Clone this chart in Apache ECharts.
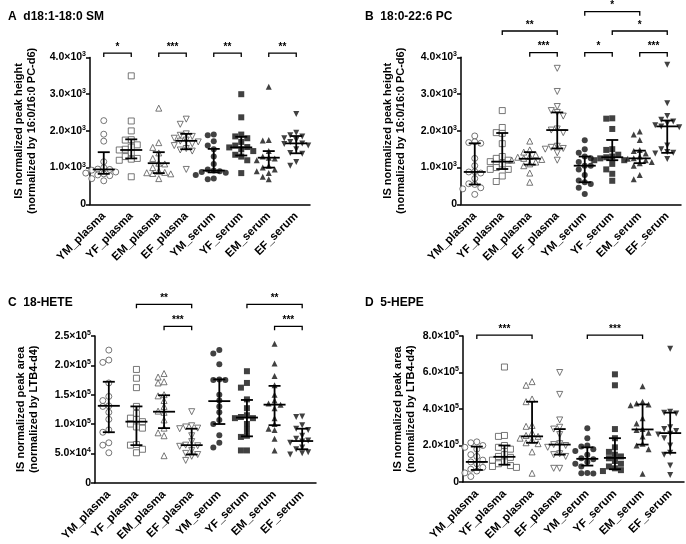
<!DOCTYPE html>
<html>
<head>
<meta charset="utf-8">
<script src="https://cdn.jsdelivr.net/npm/echarts@6/dist/echarts.min.js"></script>
<style>
  html, body { margin: 0; padding: 0; background: #fff; }
  #chart { width: 686px; height: 544px; }
</style>
</head>
<body>
<div id="chart"></div>
<script>
const categories = ['YM_plasma', 'YF_plasma', 'EM_plasma', 'EF_plasma', 'YM_serum', 'YF_serum', 'EM_serum', 'EF_serum'];

// A  d18:1-18:0 SM
const aValues = [
  [2280, 1910, 1720, 1160, 1000, 960, 950, 930, 880, 850, 830, 800, 780, 700, 640],
  [3500, 2270, 2000, 1760, 1750, 1620, 1560, 1500, 1480, 1400, 1300, 1250, 1230, 1200, 750],
  [2620, 1680, 1550, 1400, 1250, 1120, 1100, 1000, 900, 870, 860, 840, 830, 700],
  [2320, 2180, 1920, 1880, 1850, 1800, 1750, 1720, 1700, 1650, 1600, 1520, 1480, 1450, 950],
  [1900, 1880, 1720, 1600, 1500, 1300, 1100, 950, 920, 900, 880, 860, 800, 700, 680],
  [3000, 2370, 1900, 1850, 1800, 1700, 1600, 1560, 1550, 1500, 1450, 1350, 1300, 1200, 850],
  [3200, 1750, 1740, 1450, 1300, 1270, 1250, 1200, 1050, 1000, 950, 900, 850, 750, 680],
  [2460, 1950, 1880, 1850, 1800, 1750, 1700, 1660, 1640, 1600, 1500, 1400, 1380, 1150, 1050]
];
const aMedian = [950, 1480, 1120, 1730, 920, 1550, 1270, 1660];
const aQ1 = [830, 1250, 850, 1500, 870, 1330, 1000, 1390];
const aQ3 = [1420, 1770, 1420, 1920, 1510, 1840, 1450, 1860];
const aBrackets = [[0, 1, 4120, '*'], [2, 3, 4120, '***'], [4, 5, 4120, '**'], [6, 7, 4120, '**']];

// B  18:0-22:6 PC
const bValues = [
  [1860, 1700, 1680, 1660, 1250, 1050, 890, 880, 850, 700, 560, 540, 450, 420, 270],
  [2550, 2090, 1950, 1930, 1650, 1300, 1250, 1200, 1160, 1100, 1000, 950, 950, 770, 620],
  [1720, 1480, 1420, 1350, 1300, 1280, 1250, 1220, 1200, 1150, 1100, 1050, 850, 600],
  [3700, 3070, 2660, 2550, 2500, 2400, 2050, 2020, 1950, 1580, 1550, 1520, 1500, 1400, 1200],
  [1740, 1500, 1400, 1300, 1250, 1150, 1050, 1050, 950, 800, 650, 600, 550, 450, 280],
  [2340, 2330, 2050, 1500, 1480, 1350, 1300, 1280, 1250, 1200, 1200, 1100, 950, 830, 640],
  [1980, 1900, 1750, 1480, 1450, 1380, 1300, 1250, 1240, 1200, 1150, 1120, 1050, 800, 680],
  [3800, 2750, 2400, 2300, 2250, 2200, 2150, 2120, 2100, 1600, 1500, 1420, 1400, 1380, 1230]
];
const bMedian = [880, 1160, 1240, 2020, 1050, 1280, 1250, 2120];
const bQ1 = [540, 960, 1080, 1520, 600, 1200, 1120, 1400];
const bQ3 = [1660, 1940, 1420, 2500, 1300, 1750, 1460, 2280];
const bBrackets = [[1, 3, 4716, '**'], [2, 3, 4125, '***'], [4, 5, 4125, '*'], [6, 7, 4125, '***'], [5, 7, 4716, '*'], [4, 6, 5241, '*']];

// C  18-HETE
const cValues = [
  [226000, 209000, 205000, 170000, 147000, 140000, 131000, 130000, 120000, 108000, 90000, 86000, 68000, 64000, 51000],
  [193000, 178000, 162000, 130000, 118000, 110000, 108000, 104000, 100000, 95000, 93000, 65000, 64000, 57000, 51000],
  [186000, 180000, 172000, 170000, 150000, 148000, 140000, 130000, 122000, 120000, 107000, 93000, 85000, 80000, 46000],
  [121000, 97000, 95000, 93000, 92000, 80000, 70000, 64000, 63000, 62000, 55000, 50000, 48000, 45000, 38000],
  [226000, 220000, 202000, 176000, 175000, 175000, 150000, 140000, 130000, 120000, 107000, 100000, 81000, 68000, 60000],
  [190000, 170000, 162000, 142000, 127000, 115000, 112000, 110000, 110000, 100000, 90000, 80000, 78000, 55000, 55000],
  [237000, 203000, 182000, 166000, 150000, 140000, 135000, 133000, 127000, 110000, 100000, 92000, 90000, 75000, 55000],
  [113000, 112000, 98000, 92000, 90000, 80000, 75000, 72000, 70000, 68000, 60000, 57000, 52000, 50000, 48000]
];
const cMedian = [131000, 104000, 121000, 64000, 139000, 111000, 133000, 71000];
const cQ1 = [86000, 64000, 93000, 48000, 100000, 79000, 98000, 57000];
const cQ3 = [172000, 130000, 149000, 92000, 176000, 141000, 165000, 92000];
const cBrackets = [[1, 3, 304000, '**'], [2, 3, 266500, '***'], [5, 7, 304000, '**'], [6, 7, 266500, '***']];

// D  5-HEPE
const dValues = [
  [220000, 215000, 200000, 190000, 180000, 150000, 140000, 120000, 110000, 100000, 80000, 70000, 60000, 50000, 30000],
  [630000, 255000, 250000, 200000, 190000, 180000, 150000, 140000, 135000, 120000, 110000, 100000, 90000, 85000, 80000],
  [550000, 530000, 455000, 440000, 310000, 305000, 270000, 255000, 250000, 240000, 230000, 215000, 210000, 165000, 48000],
  [600000, 480000, 340000, 300000, 290000, 260000, 210000, 205000, 200000, 190000, 155000, 150000, 140000, 75000, 75000],
  [295000, 240000, 200000, 195000, 180000, 170000, 150000, 130000, 125000, 110000, 100000, 85000, 50000, 48000, 46000],
  [590000, 530000, 290000, 240000, 190000, 165000, 150000, 140000, 130000, 115000, 100000, 85000, 75000, 65000, 60000],
  [525000, 440000, 430000, 425000, 420000, 350000, 320000, 290000, 285000, 270000, 250000, 210000, 200000, 180000, 45000],
  [730000, 385000, 380000, 375000, 300000, 290000, 280000, 265000, 260000, 240000, 200000, 160000, 150000, 90000, 38000]
];
const dMedian = [110000, 138000, 250000, 205000, 127000, 132000, 288000, 268000];
const dQ1 = [66000, 95000, 215000, 150000, 90000, 70000, 205000, 160000];
const dQ3 = [194000, 200000, 440000, 290000, 190000, 240000, 425000, 380000];
const dBrackets = [[0, 2, 805000, '***'], [4, 6, 805000, '***']];

const panels = [
  { title: 'A  d18:1-18:0 SM', tx: 3, ty: 6, values: aValues, median: aMedian, q1: aQ1, q3: aQ3, brackets: aBrackets,
    max: 4000, interval: 1000, yName: 'IS normalized peak height\n(normalized by 16:0/16:0 PC-d6)', nameGap: 52,
    grid: { left: 90, top: 57.5, width: 220, height: 146.8 } },
  { title: 'B  18:0-22:6 PC', tx: 360, ty: 6, values: bValues, median: bMedian, q1: bQ1, q3: bQ3, brackets: bBrackets,
    max: 4000, interval: 1000, yName: 'IS normalized peak height\n(normalized by 16:0/16:0 PC-d6)', nameGap: 54,
    grid: { left: 461, top: 57.3, width: 220, height: 147 } },
  { title: 'C  18-HETE', tx: 3, ty: 292, values: cValues, median: cMedian, q1: cQ1, q3: cQ3, brackets: cBrackets,
    max: 250000, interval: 50000, yName: 'IS normalized peak area\n(normalized by LTB4-d4)', nameGap: 55,
    grid: { left: 95, top: 336, width: 221, height: 146.7 } },
  { title: 'D  5-HEPE', tx: 360, ty: 292, values: dValues, median: dMedian, q1: dQ1, q3: dQ3, brackets: dBrackets,
    max: 800000, interval: 200000, yName: 'IS normalized peak area\n(normalized by LTB4-d4)', nameGap: 46,
    grid: { left: 463, top: 336, width: 221, height: 146 } }
];

const markers = [
  { symbol: 'circle', rotate: 0, filled: false },
  { symbol: 'rect', rotate: 0, filled: false },
  { symbol: 'triangle', rotate: 0, filled: false },
  { symbol: 'triangle', rotate: 180, filled: false },
  { symbol: 'circle', rotate: 0, filled: true },
  { symbol: 'rect', rotate: 0, filled: true },
  { symbol: 'triangle', rotate: 0, filled: true },
  { symbol: 'triangle', rotate: 180, filled: true }
];

const sciLabel = v => {
  if (v === 0) return '{m|0}';
  const e = Math.floor(Math.log10(v) + 1e-9);
  const m = v / Math.pow(10, e);
  return '{m|' + m.toFixed(1) + '×10}{e|' + e + '}';
};

// GraphPad style spread: points that would overlap get pushed sideways
const swarm = (vals, max) => {
  const delta = max * 0.04;
  const order = [0, -1, 1, -2, 2, -3, 3];
  const placed = [];
  return vals.map(v => {
    const used = placed.filter(p => Math.abs(p.v - v) < delta).map(p => p.k);
    let i = 0;
    while (used.includes(order[i]) && i < order.length - 1) i++;
    placed.push({ v, k: order[i] });
    return order[i] * 6;
  });
};

const chart = echarts.init(document.getElementById('chart'));

const grids = [], xAxes = [], yAxes = [], series = [], titles = [];

panels.forEach((p, pi) => {
  titles.push({ text: p.title, left: p.tx, top: p.ty,
    textStyle: { fontSize: 12, fontWeight: 'bold', color: '#000', fontFamily: 'Arial' } });
  grids.push(p.grid);
  xAxes.push({
    type: 'category', gridIndex: pi, data: categories,
    axisLine: { lineStyle: { color: '#000', width: 1.5 } },
    axisTick: { alignWithLabel: true, length: 4, lineStyle: { color: '#000', width: 1.5 } },
    axisLabel: { rotate: 45, interval: 0, margin: 10, color: '#000', fontSize: 11.5, fontWeight: 'bold', fontFamily: 'Arial' }
  });
  yAxes.push({
    type: 'value', gridIndex: pi, min: 0, max: p.max, interval: p.interval,
    name: p.yName, nameLocation: 'middle', nameGap: p.nameGap,
    nameTextStyle: { color: '#000', fontSize: 11, fontWeight: 'bold', lineHeight: 13, fontFamily: 'Arial' },
    axisLine: { show: true, lineStyle: { color: '#000', width: 1.5 } },
    axisTick: { show: true, length: 4, lineStyle: { color: '#000', width: 1.5 } },
    splitLine: { show: false },
    axisLabel: {
      margin: 4, formatter: sciLabel,
      rich: {
        m: { fontSize: 10.5, fontWeight: 'bold', color: '#000', fontFamily: 'Arial' },
        e: { fontSize: 7, fontWeight: 'bold', color: '#000', fontFamily: 'Arial', padding: [0, 0, 6, 0] }
      }
    }
  });

  const points = [];
  p.values.forEach((vals, ci) => {
    const mk = markers[ci];
    const offs = swarm(vals, p.max);
    vals.forEach((v, k) => {
      points.push({
        value: [ci, v],
        symbol: mk.symbol,
        symbolRotate: mk.rotate,
        symbolOffset: [offs[k], 0],
        itemStyle: mk.filled
          ? { color: '#111', borderColor: '#111', borderWidth: 0 }
          : { color: '#fff', borderColor: '#555', borderWidth: 1 }
      });
    });
  });
  series.push({
    type: 'scatter', xAxisIndex: pi, yAxisIndex: pi, symbolSize: 6, data: points, z: 2,
    emphasis: { disabled: true }
  });

  series.push({
    type: 'custom', xAxisIndex: pi, yAxisIndex: pi, z: 3,
    data: categories.map((c, ci) => [ci, p.q1[ci], p.median[ci], p.q3[ci]]),
    renderItem: (params, api) => {
      const lo = api.coord([api.value(0), api.value(1)]);
      const md = api.coord([api.value(0), api.value(2)]);
      const hi = api.coord([api.value(0), api.value(3)]);
      const x = md[0];
      const st = { stroke: '#000', lineWidth: 1.8 };
      return {
        type: 'group',
        children: [
          { type: 'line', shape: { x1: x, y1: lo[1], x2: x, y2: hi[1] }, style: st },
          { type: 'line', shape: { x1: x - 6, y1: lo[1], x2: x + 6, y2: lo[1] }, style: st },
          { type: 'line', shape: { x1: x - 6, y1: hi[1], x2: x + 6, y2: hi[1] }, style: st },
          { type: 'line', shape: { x1: x - 11, y1: md[1], x2: x + 11, y2: md[1] }, style: st }
        ]
      };
    }
  });

  series.push({
    type: 'custom', xAxisIndex: pi, yAxisIndex: pi, z: 3, clip: false,
    data: p.brackets.map(b => [b[0], b[1], b[2]]),
    renderItem: (params, api) => {
      const a = api.coord([api.value(0), api.value(2)]);
      const b = api.coord([api.value(1), api.value(2)]);
      const label = p.brackets[params.dataIndex][3];
      return {
        type: 'group',
        children: [
          { type: 'polyline',
            shape: { points: [[a[0], a[1] + 4], [a[0], a[1]], [b[0], b[1]], [b[0], b[1] + 4]] },
            style: { stroke: '#000', lineWidth: 1.3, fill: null } },
          { type: 'text',
            style: { text: label, x: (a[0] + b[0]) / 2, y: a[1] - 1, align: 'center', verticalAlign: 'bottom',
              fontSize: 10, fontWeight: 'bold', fill: '#000', fontFamily: 'Arial' } }
        ]
      };
    }
  });
});

chart.setOption({
  animation: false,
  backgroundColor: '#fff',
  title: titles,
  grid: grids,
  xAxis: xAxes,
  yAxis: yAxes,
  series: series
});
</script>
</body>
</html>
